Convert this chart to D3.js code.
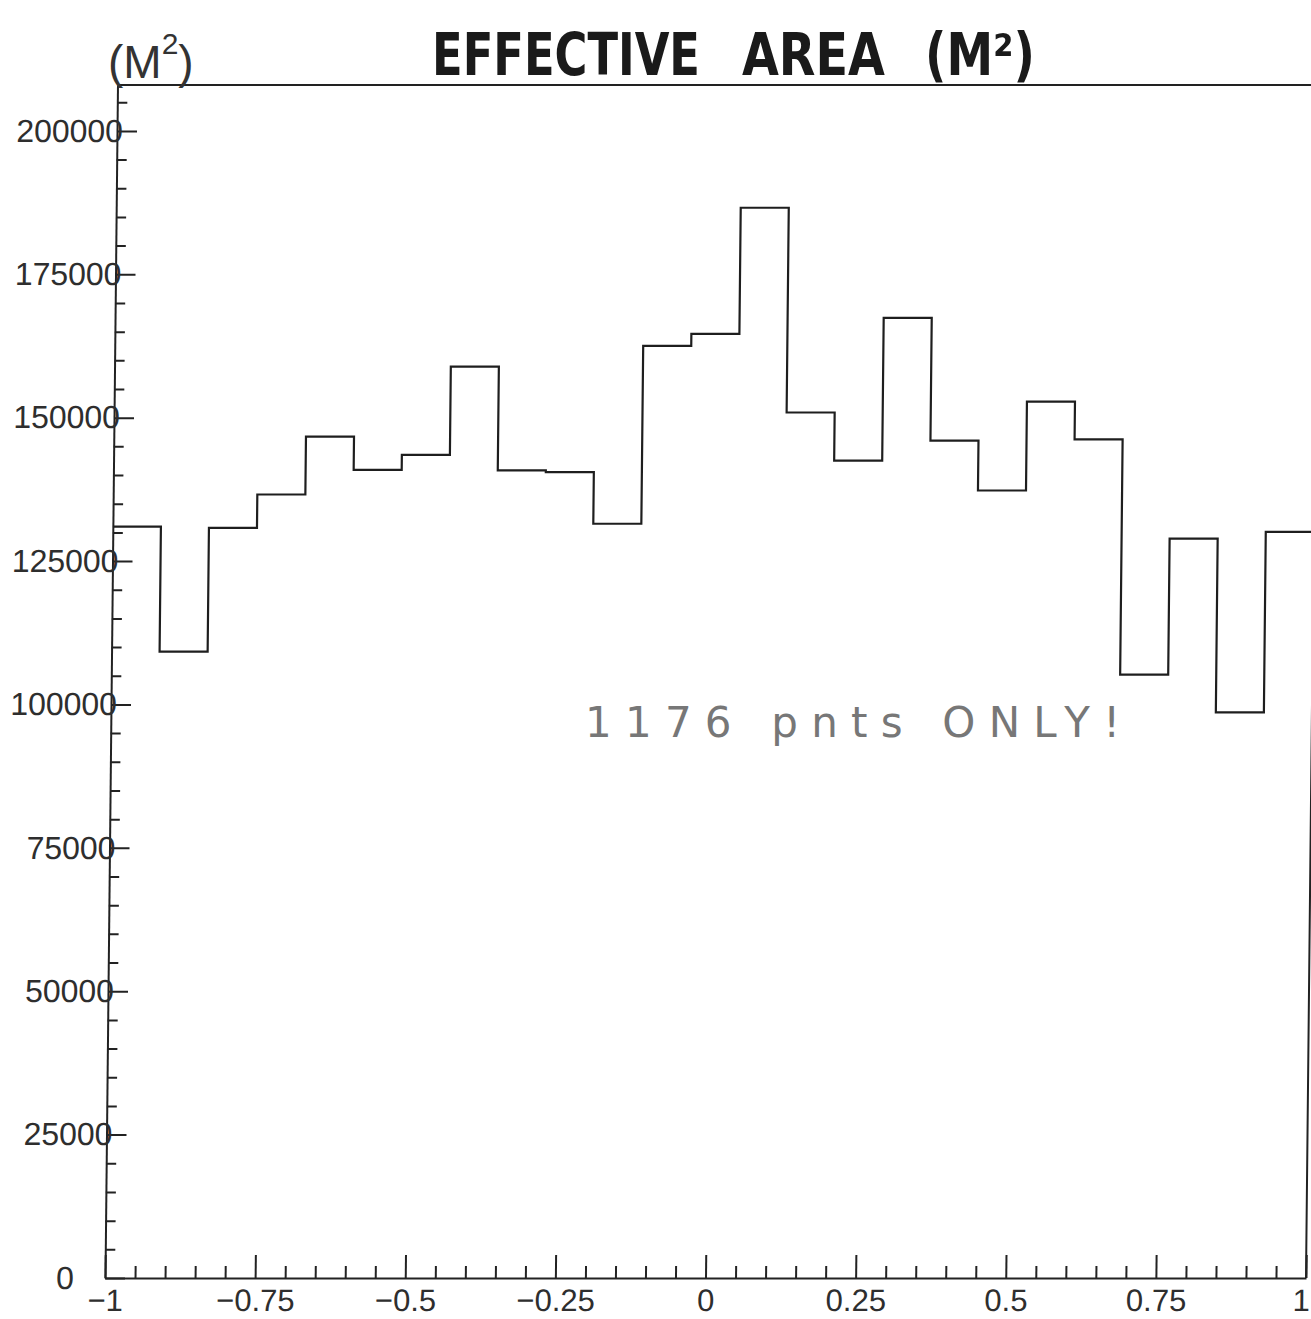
<!DOCTYPE html>
<html>
<head>
<meta charset="utf-8">
<script src="https://cdn.jsdelivr.net/npm/d3@7"></script>
<style>
  html, body { margin: 0; padding: 0; background: #fff; }
  svg { display: block; }
  .axis text { font-family: 'Liberation Sans', Arial, sans-serif; font-size: 32px; fill: #2e2e2e; }
  .axis.x text { font-size: 31px; }
  .axis path, .axis line { stroke: #222; stroke-width: 2; }
</style>
</head>
<body>
<svg id="chart" width="1311" height="1319"></svg>
<script>
// bins of width 0.08 between -1 and 1
const binLefts = [-1, -0.92, -0.84, -0.76, -0.68, -0.6, -0.52, -0.44, -0.36, -0.28,
                  -0.2, -0.12, -0.04, 0.04, 0.12, 0.2, 0.28, 0.36, 0.44, 0.52,
                  0.6, 0.68, 0.76, 0.84, 0.92];
const areaValues = [131000, 109200, 130800, 136600, 146700, 140900, 143500, 158900, 140800, 140500,
                    131500, 162500, 164600, 186600, 150900, 142500, 167400, 146000, 137300, 152800,
                    146200, 105200, 128900, 98600, 130100];
const xTicks = [-1, -0.75, -0.5, -0.25, 0, 0.25, 0.5, 0.75, 1];
const xTickLabels = ['\u22121', '\u22120.75', '\u22120.5', '\u22120.25', '0', '0.25', '0.5', '0.75', '1'];
const yTicks = [0, 25000, 50000, 75000, 100000, 125000, 150000, 175000, 200000];
const yTickLabels = ['0', '25000', '50000', '75000', '100000', '125000', '150000', '175000', '200000'];
const titleWords = ['EFFECTIVE', 'AREA', '(M\u00B2)'];

const svg = d3.select('#chart');

const x = d3.scaleLinear().domain([-1, 1]).range([105, 1306]);
const y = d3.scaleLinear().domain([0, 208000]).range([1278, 85]);

// the plotted frame leans slightly to the right towards the top
const g = svg.append('g')
  .attr('transform', 'translate(0,1278) skewX(-0.6) translate(0,-1278)');

// minor ticks
const xMinor = d3.range(-1, 1.0001, 0.05).filter(v => Math.abs(v * 4 - Math.round(v * 4)) > 1e-6);
const yMinor = d3.range(0, 208000, 5000).filter(v => v % 25000 !== 0);

g.append('g')
  .attr('class', 'axis')
  .attr('transform', `translate(0,${y(0)})`)
  .call(d3.axisBottom(x).tickValues(xMinor).tickSize(-12).tickSizeOuter(0).tickFormat(''))
  .select('.domain').remove();

g.append('g')
  .attr('class', 'axis')
  .attr('transform', `translate(${x(-1)},0)`)
  .call(d3.axisLeft(y).tickValues(yMinor).tickSize(-10).tickSizeOuter(0).tickFormat(''))
  .select('.domain').remove();

// major x axis
const xAxis = g.append('g')
  .attr('class', 'axis x')
  .attr('transform', `translate(0,${y(0)})`)
  .call(d3.axisBottom(x)
    .tickValues(xTicks)
    .tickSize(-23)
    .tickSizeOuter(0)
    .tickPadding(11)
    .tickFormat((d, i) => xTickLabels[i]));
// keep the last label inside the page edge
xAxis.selectAll('text').filter(d => d === 1).attr('dx', -5);

// major y axis, labels running into the axis as on the plot
const yAxis = g.append('g')
  .attr('class', 'axis')
  .attr('transform', `translate(${x(-1)},0)`)
  .call(d3.axisLeft(y)
    .tickValues(yTicks)
    .tickSize(-20)
    .tickSizeOuter(0)
    .tickPadding(-6)
    .tickFormat((d, i) => yTickLabels[i]));
yAxis.selectAll('text')
  .filter(d => d === 0)
  .attr('x', -40)
  .attr('text-anchor', 'middle');

// frame top and right
g.append('path')
  .attr('fill', 'none')
  .attr('stroke', '#222')
  .attr('stroke-width', 2)
  .attr('d', `M${x(-1)},${y.range()[1]}H${x(1)}V${y(0)}`);

// histogram outline
const pts = binLefts.map((b, i) => [b, areaValues[i]]);
pts.push([1, areaValues[areaValues.length - 1]]);
const line = d3.line()
  .x(d => x(d[0]))
  .y(d => y(d[1]))
  .curve(d3.curveStepAfter);

g.append('path')
  .datum(pts)
  .attr('fill', 'none')
  .attr('stroke', '#1e1e1e')
  .attr('stroke-width', 2.2)
  .attr('d', line);

// handwritten title
const titleX = [432, 742, 925];
const titleW = [268, 143, 110];
svg.selectAll('text.title')
  .data(titleWords)
  .enter().append('text')
    .attr('class', 'title')
    .attr('x', (d, i) => titleX[i])
    .attr('y', 75)
    .attr('font-family', "'Liberation Sans Narrow', 'DejaVu Sans Condensed', 'Liberation Sans', sans-serif")
    .attr('font-weight', 'bold')
    .attr('font-size', 58)
    .attr('fill', '#1a1a1a')
    .attr('textLength', (d, i) => titleW[i])
    .attr('lengthAdjust', 'spacingAndGlyphs')
    .text(d => d);

// units note on the y axis
const unit = svg.append('text')
  .attr('x', 108)
  .attr('y', 78)
  .attr('font-family', "'Liberation Sans', sans-serif")
  .attr('font-size', 46)
  .attr('fill', '#333');
unit.append('tspan').text('(M');
unit.append('tspan').attr('dy', -24).attr('font-size', 30).text('2');
unit.append('tspan').attr('dy', 24).text(')');

// pencil note
svg.append('text')
  .attr('x', 585)
  .attr('y', 737)
  .attr('font-family', "'DejaVu Sans', sans-serif")
  .attr('font-size', 42)
  .attr('fill', '#777')
  .attr('textLength', 535)
  .attr('lengthAdjust', 'spacing')
  .text('1176 pnts ONLY!');
</script>
</body>
</html>
